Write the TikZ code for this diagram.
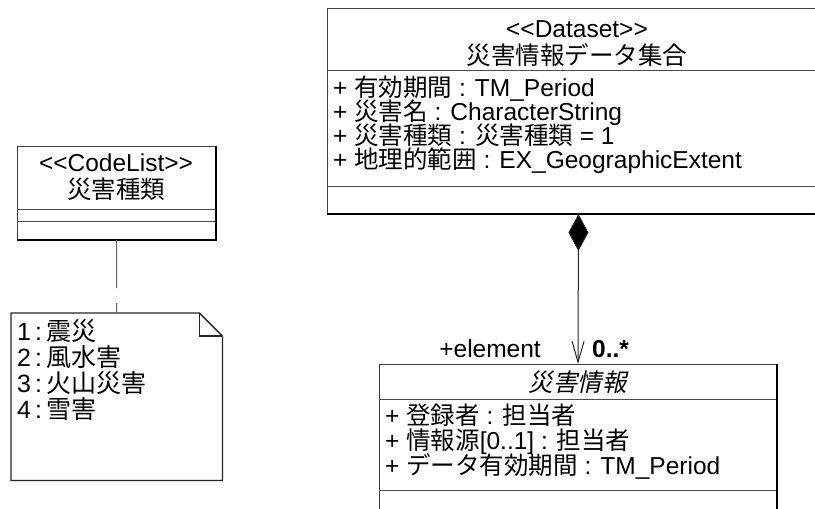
\documentclass[tikz,border=0pt]{standalone}
\usepackage{fontspec}
\setmainfont{Liberation Sans}
\newfontfamily\jp{Noto Sans CJK JP}
\newfontfamily\jpit{Noto Sans CJK JP}[FakeSlant=0.22]
\usetikzlibrary{arrows.meta}
\begin{document}
\begin{tikzpicture}[x=1pt,y=-1pt,
  umlbox/.style={draw=black!75, line width=1pt, fill=white, inner sep=0pt, anchor=north west},
  sepline/.style={draw=black!70, line width=1pt},
  heavy/.style={draw=black, line width=1.8pt},
  txt/.style={inner sep=0pt, text height=17pt, text depth=4pt, font=\fontsize{24.5}{27}\selectfont},
  notetxt/.style={inner sep=0pt, text height=18pt, text depth=4pt, font=\fontsize{25}{28}\selectfont, anchor=base west},
  attr/.style={txt, anchor=base west},
  ctr/.style={txt, anchor=base},
  composition/.style={draw=black!85, line width=1pt,
    {Diamond[length=37pt,width=20pt,fill=black]}-{Straight Barb[length=21pt,width=12pt]}},
  anchorline/.style={draw=black!60, line width=1pt, dash pattern=on 48pt off 15pt}]
\useasboundingbox (0,0) rectangle (815,509);
\fill[white] (0,0) rectangle (815,509);
\clip (0,0) rectangle (815,509);

% code list class
\node[umlbox, minimum width=198pt, minimum height=93pt] (cl) at (17,146) {};
\draw[sepline] (cl.north west) ++(0,63) -- ++(198,0);
\draw[sepline] (cl.north west) ++(0,75) -- ++(198,0);
\draw[heavy] (cl.south west) -- (cl.south east) -- (cl.north east);
\node[ctr] (clst) at (116,171) {<{}<CodeList>{}>};
\node[ctr] (clname) at (116,198) {\jp 災害種類};

% note with folded corner
\node[inner sep=0pt, minimum width=211pt, minimum height=167pt, anchor=north west] (note) at (11,313) {};
\draw[draw=black!85, line width=1.3pt, fill=white]
  (note.north west) -- ([xshift=-23pt]note.north east)
  -- ([yshift=-23pt]note.north east) -- (note.south east)
  -- (note.south west) -- cycle;
\draw[draw=black!85, line width=1.1pt]
  ([xshift=-23pt]note.north east) |- ([yshift=-23pt]note.north east);
\node[notetxt] (n1) at (17,340) {1\hspace{4pt}:\hspace{4pt}{\jp 震災}};
\node[notetxt] (n2) at (17,366) {2\hspace{4pt}:\hspace{4pt}{\jp 風水害}};
\node[notetxt] (n3) at (17,392) {3\hspace{4pt}:\hspace{4pt}{\jp 火山災害}};
\node[notetxt] (n4) at (17,418) {4\hspace{4pt}:\hspace{4pt}{\jp 雪害}};

\draw[anchorline] (cl.south) -- (note.north);

% dataset class
\node[umlbox, minimum width=502pt, minimum height=205pt] (ds) at (327,8) {};
\draw[sepline] (ds.north west) ++(0,62) -- ++(502,0);
\draw[sepline] (ds.north west) ++(0,178) -- ++(502,0);
\draw[heavy] (ds.south west) -- (ds.south east);
\node[ctr] (dsst) at (577,37) {<{}<Dataset>{}>};
\node[ctr] (dsname) at (577,64) {\jp 災害情報データ集合};
\node[attr] (a1) at (333,96) {+ {\jp 有効期間} : TM\_Period};
\node[attr] (a2) at (333,120) {+ {\jp 災害名} : CharacterString};
\node[attr] (a3) at (333,144) {+ {\jp 災害種類} : {\jp 災害種類} = 1};
\node[attr] (a4) at (333,168) {+ {\jp 地理的範囲} : EX\_GeographicExtent};

% disaster information class
\node[umlbox, minimum width=397pt, minimum height=160pt] (info) at (379,364) {};
\draw[sepline] (info.north west) ++(0,35.5) -- ++(397,0);
\draw[sepline] (info.north west) ++(0,126) -- ++(397,0);
\draw[heavy] (info.north east) -- (info.south east);
\node[ctr] (infoname) at (577.5,391) {\jpit 災害情報};
\node[attr] (b1) at (385,424) {+ {\jp 登録者} : {\jp 担当者}};
\node[attr] (b2) at (385,449) {+ {\jp 情報源}[0..1] : {\jp 担当者}};
\node[attr] (b3) at (385,474) {+ {\jp データ有効期間} : TM\_Period};

% composition
\draw[composition] (ds.south) -- (info.north);
\node[txt, anchor=base east] (role) at (541,357) {+element};
\node[txt, anchor=base west, font=\fontsize{24.5}{27}\selectfont\bfseries] (mult) at (592,357) {0..*};
\end{tikzpicture}
\end{document}
